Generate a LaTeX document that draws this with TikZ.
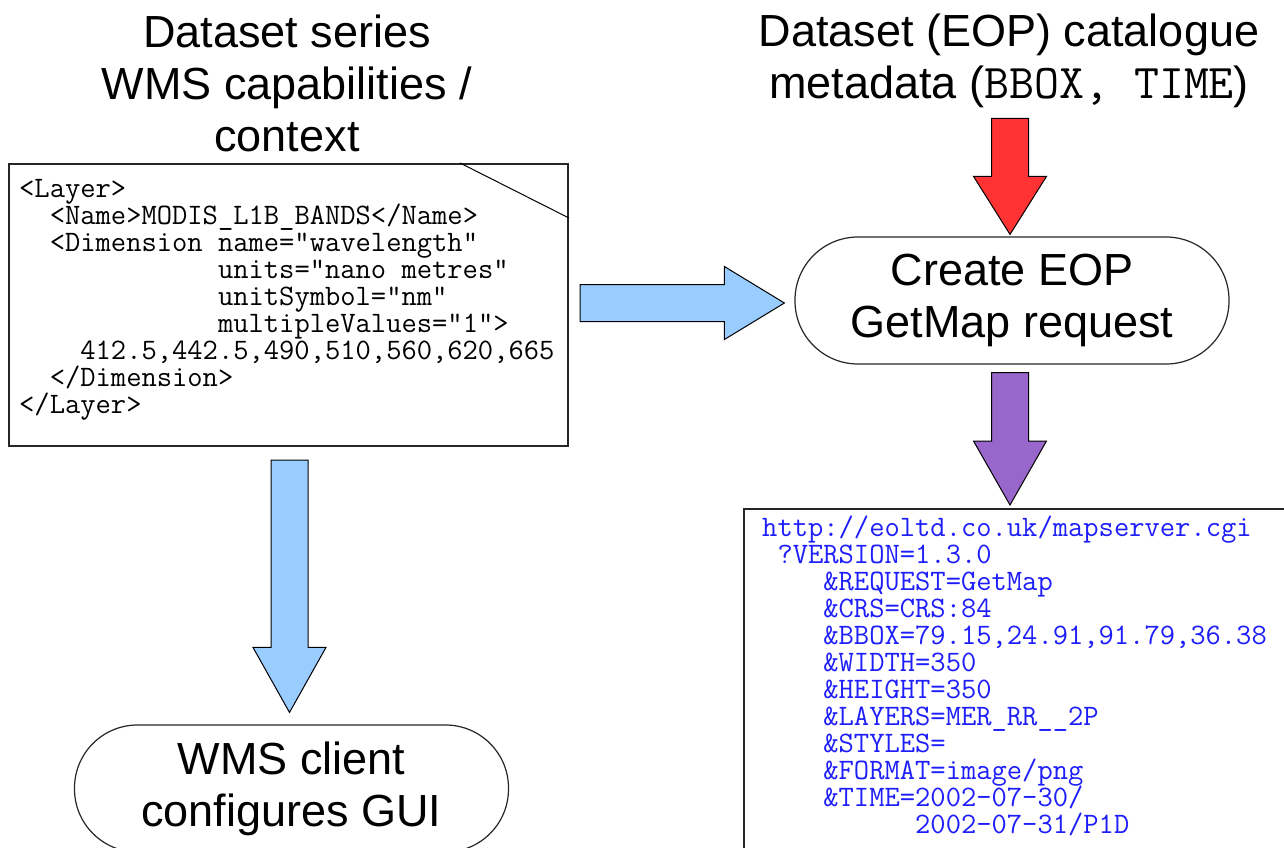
\documentclass[tikz,border=0pt]{standalone}
\usepackage{fontspec}
\setmainfont{Liberation Sans}
\usetikzlibrary{calc,positioning}

\definecolor{skyblue}{RGB}{153,204,255}
\definecolor{alertred}{RGB}{255,51,51}
\definecolor{lilac}{RGB}{153,102,204}
\definecolor{urlblue}{RGB}{30,30,250}

\tikzset{
  heading/.style={font=\fontsize{45}{52}\selectfont, align=center, inner sep=0pt},
  pill/.style={draw=black!85, line width=1.2pt, rounded corners=63pt, minimum width=434pt,
    minimum height=127pt, inner sep=0pt, font=\fontsize{45}{52}\selectfont, align=center},
  codebox/.style={draw=black!85, line width=2pt, inner sep=0pt, anchor=north west},
  codeline/.style={font=\fontsize{29.7}{27}\ttfamily, anchor=base west, inner sep=0pt},
  fatarrow/.style={draw=black, line width=1pt, line join=miter},
}

% block arrow: [head length]{fill}{from}{to}
\newcommand\fatarrow[4][62pt]{%
  \coordinate (fa-h) at ($(#4)!#1!(#3)$);
  \draw[fatarrow, fill=#2] ($(#3)!18.5pt!90:(#4)$) -- ($(fa-h)!18.5pt!-90:(#3)$)
    -- ($(fa-h)!36.5pt!-90:(#3)$) -- (#4) -- ($(fa-h)!36.5pt!90:(#3)$)
    -- ($(fa-h)!18.5pt!90:(#3)$) -- ($(#3)!18.5pt!-90:(#4)$) -- cycle;
}

\begin{document}
\begin{tikzpicture}[x=1pt, y=-1pt]
  \clip (0,0) rectangle (1284,847);
  \fill[white] (0,0) rectangle (1284,847);

  % headings
  \node[heading, anchor=north] (series) at (287,15) {Dataset series\\WMS capabilities /\\context};
  \node[heading, anchor=north] (meta) at (1009,14)
    {Dataset (EOP) catalogue\\metadata ({\fontsize{48.5}{52}\ttfamily BBOX, TIME})};

  % capabilities document
  \node[codebox, minimum width=559pt, minimum height=282pt] (caps) at (8,163) {};
  \draw[line width=1pt] ($(caps.north east)+(-109,0)$) -- ($(caps.north east)+(0,55)$);
  \foreach \ln [count=\k from 0] in {{<Layer>},
      {~~<Name>MODIS\_L1B\_BANDS</Name>},
      {~~<Dimension name="wavelength"},
      {~~~~~~~~~~~~~units="nano metres"},
      {~~~~~~~~~~~~~unitSymbol="nm"},
      {~~~~~~~~~~~~~multipleValues=”1”>},
      {~~~~412.5,442.5,490,510,560,620,665},
      {~~</Dimension>},
      {</Layer>}}
    \node[codeline] (cap\k) at (19,197+27*\k) {\ln};

  % request URL
  \node[codebox, minimum width=600pt, minimum height=400pt] (url) at (743,508) {};
  \foreach \ln [count=\k from 0] in {{http://eoltd.co.uk/mapserver.cgi},
      {~?VERSION=1.3.0},
      {~~~~\&REQUEST=GetMap},
      {~~~~\&CRS=CRS:84},
      {~~~~\&BBOX=79.15,24.91,91.79,36.38},
      {~~~~\&WIDTH=350},
      {~~~~\&HEIGHT=350},
      {~~~~\&LAYERS=MER\_RR\_\_2P},
      {~~~~\&STYLES=},
      {~~~~\&FORMAT=image/png},
      {~~~~\&TIME=2002-07-30/},
      {~~~~~~~~~~2002-07-31/P1D}}
    \node[codeline, text=urlblue] (req\k) at (762,536+27*\k) {\ln};

  % processes
  \node[pill] (eop) at (1012,300.5) {Create EOP\\GetMap request};
  \node[pill] (wms) at (291.5,788.5) {WMS client\\configures GUI};

  % arrows
  \coordinate (h1) at ($(caps.east)+(11,-2)$);
  \coordinate (h2) at ($(h1 -| eop.west)+(-10,0)$);
  \fatarrow[60pt]{skyblue}{h1}{h2}
  \coordinate (d1) at ($(caps.south)+(1,13)$);
  \coordinate (d2) at ($(d1 |- wms.north)+(0,-12)$);
  \fatarrow[65pt]{skyblue}{d1}{d2}
  \coordinate (r1) at ($(meta.south -| eop.north)+(-2,10)$);
  \coordinate (r2) at ($(eop.north)+(-2,-2)$);
  \fatarrow[58pt]{alertred}{r1}{r2}
  \coordinate (p1) at ($(eop.south)+(-2,8)$);
  \coordinate (p2) at ($(p1 |- url.north)+(0,-3)$);
  \fatarrow[64pt]{lilac}{p1}{p2}
\end{tikzpicture}
\end{document}
